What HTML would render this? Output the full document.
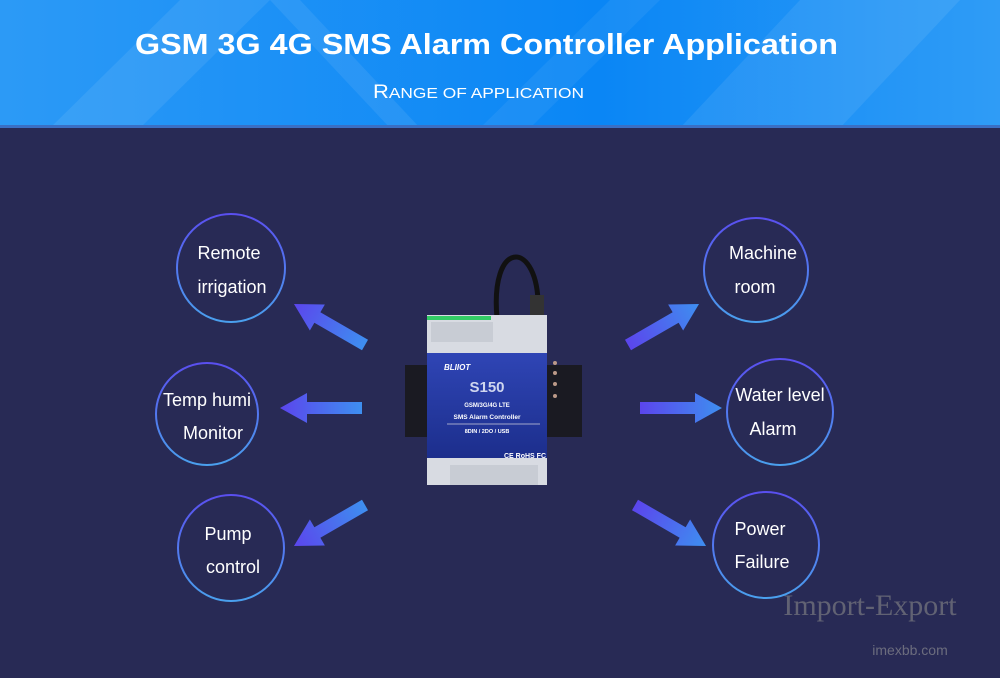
<!DOCTYPE html>
<html><head><meta charset="utf-8"><style>
body{margin:0;width:1000px;height:673px;overflow:hidden;background:#282a55;font-family:"Liberation Sans",sans-serif}
</style></head><body>
<svg width="1000" height="673" viewBox="0 0 1000 673" xmlns="http://www.w3.org/2000/svg">
<defs>
<linearGradient id="hd" x1="0" x2="1"><stop offset="0" stop-color="#2c9af6"/><stop offset="0.6" stop-color="#0a86f5"/><stop offset="1" stop-color="#2f9cf6"/></linearGradient>
<linearGradient id="cg" x1="0" y1="0" x2="0" y2="1"><stop offset="0" stop-color="#5a4ff0"/><stop offset="1" stop-color="#4aa0ee"/></linearGradient>
<linearGradient id="ag" x1="0" x2="1"><stop offset="0" stop-color="#5b45ec"/><stop offset="1" stop-color="#3e8ff0"/></linearGradient>
<linearGradient id="ag2" x1="0" x2="1"><stop offset="0" stop-color="#3e8ff0"/><stop offset="1" stop-color="#5b45ec"/></linearGradient>
<linearGradient id="face" x1="0" y1="0" x2="0" y2="1"><stop offset="0" stop-color="#2f45b5"/><stop offset="1" stop-color="#1c2e8c"/></linearGradient>
<g id="arr"><polygon points="0,-6 55,-6 55,-15 82,0 55,15 55,6 0,6" fill="url(#ag)"/></g>
<g id="arrL"><polygon points="0,-6 55,-6 55,-15 82,0 55,15 55,6 0,6" fill="url(#ag2)"/></g>
</defs>
<rect width="1000" height="128" fill="url(#hd)"/>
<polygon points="50,128 180,0 270,0 140,128" fill="#fff" opacity="0.08"/>
<polygon points="270,0 300,0 420,128 390,128" fill="#fff" opacity="0.08"/>
<polygon points="610,0 660,0 530,128 480,128" fill="#fff" opacity="0.06"/>
<polygon points="800,0 960,0 840,128 680,128" fill="#fff" opacity="0.08"/>
<rect y="125" width="1000" height="3" fill="#3a6fc4"/>
<text x="135" y="54" font-size="29" font-weight="bold" fill="#fff" textLength="703" lengthAdjust="spacingAndGlyphs">GSM 3G 4G SMS Alarm Controller Application</text>
<text x="373" y="98" fill="#fff" font-size="19" textLength="211" lengthAdjust="spacingAndGlyphs">R<tspan font-size="15">ANGE OF APPLICATION</tspan></text>

<g fill="none" stroke="url(#cg)" stroke-width="2">
<circle cx="231" cy="268" r="54"/><circle cx="207" cy="414" r="51"/><circle cx="231" cy="548" r="53"/>
<circle cx="756" cy="270" r="52"/><circle cx="780" cy="412" r="53"/><circle cx="766" cy="545" r="53"/>
</g>
<g fill="#fff" font-size="18" text-anchor="middle">
<text x="229" y="259">Remote</text><text x="232" y="293">irrigation</text>
<text x="207" y="406">Temp humi</text><text x="213" y="439">Monitor</text>
<text x="228" y="540">Pump</text><text x="233" y="573">control</text>
<text x="763" y="259">Machine</text><text x="755" y="293">room</text>
<text x="780" y="401">Water level</text><text x="773" y="435">Alarm</text>
<text x="760" y="535">Power</text><text x="762" y="568">Failure</text>
</g>
<use href="#arrL" transform="translate(365,345) rotate(-150)"/>
<use href="#arrL" transform="translate(362,408) rotate(180)"/>
<use href="#arrL" transform="translate(365,505) rotate(150)"/>
<use href="#arr" transform="translate(628,345) rotate(-30)"/>
<use href="#arr" transform="translate(640,408)"/>
<use href="#arr" transform="translate(635,505) rotate(30)"/>

<!-- device -->
<path d="M497,318 C490,240 535,240 538,300" fill="none" stroke="#111" stroke-width="5"/>
<rect x="530" y="295" width="14" height="22" fill="#333"/>
<rect x="405" y="365" width="28" height="72" fill="#1a1a22"/>
<rect x="540" y="365" width="42" height="72" fill="#1a1a22"/>
<rect x="427" y="315" width="120" height="170" fill="#d8dbe2"/>
<rect x="427" y="316" width="64" height="4" fill="#3c6"/>
<rect x="431" y="322" width="62" height="20" fill="#c8ccd4"/>
<rect x="427" y="353" width="120" height="105" fill="url(#face)"/>
<text x="444" y="370" font-size="8" font-style="italic" font-weight="bold" fill="#fff">BLIIOT</text>
<text x="487" y="392" text-anchor="middle" font-size="15" font-weight="bold" fill="#cfd6ef">S150</text>
<text x="487" y="407" text-anchor="middle" font-size="6" font-weight="bold" fill="#fff">GSM/3G/4G LTE</text>
<text x="487" y="419" text-anchor="middle" font-size="6.5" font-weight="bold" fill="#fff">SMS Alarm Controller</text>
<line x1="447" y1="424" x2="540" y2="424" stroke="#ccd" stroke-width="0.7"/>
<text x="487" y="433" text-anchor="middle" font-size="5.5" font-weight="bold" fill="#fff">8DIN / 2DO / USB</text>
<text x="525" y="458" text-anchor="middle" font-size="7" font-weight="bold" fill="#fff">CE RoHS FC</text>
<g fill="#b98"><circle cx="555" cy="363" r="2"/><circle cx="555" cy="373" r="2"/><circle cx="555" cy="384" r="2"/><circle cx="555" cy="396" r="2"/></g>
<rect x="450" y="465" width="88" height="20" fill="#c8ccd4"/>
<text x="870" y="615" text-anchor="middle" font-size="30" font-family="Liberation Serif,serif" fill="#888" opacity="0.6">Import-Export</text>
<text x="910" y="655" text-anchor="middle" font-size="14" fill="#999" opacity="0.6">imexbb.com</text>
</svg>
</body></html>
